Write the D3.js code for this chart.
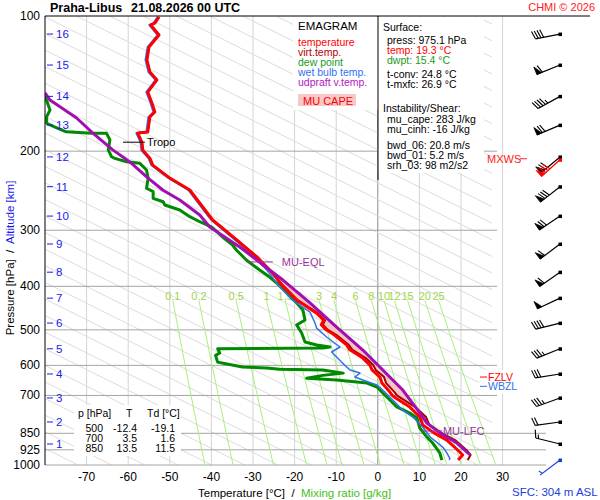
<!DOCTYPE html>
<html>
<head>
<meta charset="utf-8">
<script src="https://cdn.jsdelivr.net/npm/d3@7"></script>
<style>
  body { margin: 0; background: #fff; }
  svg { display: block; font-family: "Liberation Sans", Arial, sans-serif; }
</style>
</head>
<body>
<script>
// sounding: pressure [hPa] and temperature [C]
var tempP = [100.5, 103.7, 104.7, 110.2, 117.2, 125.3, 133.2, 138.8, 147.7, 156.2, 163.6, 167.8, 181.3, 182.3, 191.1, 199, 207.3, 214.8, 229.6, 244.1, 284.7, 315.3, 343.9, 368, 383, 397, 429, 459, 476, 487, 500, 513, 540, 554, 578, 599, 614, 637, 657, 688, 700, 709, 743, 782, 814, 848, 880, 926, 950, 975];
var tempT = [-52.6, -53.6, -54.6, -52.6, -55.0, -55.5, -54.8, -53.1, -55.3, -54.3, -53.6, -54.8, -55.3, -57.7, -56.7, -56.5, -54.8, -54.1, -50.0, -45.2, -39.7, -33.9, -29.1, -26.0, -24.4, -23.1, -19.5, -14.7, -13.0, -13.6, -12.4, -10.5, -7.5, -6.7, -3.6, -1.9, -1.4, 0.5, 1.0, 2.9, 3.5, 4.3, 7.7, 10.1, 10.8, 13.5, 16.6, 19.2, 20.4, 19.3];
var virtT = [-52.6, -53.6, -54.6, -52.6, -55.0, -55.5, -54.8, -53.1, -55.3, -54.3, -53.6, -54.8, -55.3, -57.7, -56.7, -56.5, -54.8, -54.1, -50.0, -45.2, -39.7, -33.9, -29.0, -25.9, -24.3, -22.9, -19.3, -14.4, -12.7, -13.2, -12.0, -10.0, -7.0, -6.1, -2.9, -1.1, -0.5, 1.5, 2.0, 4.0, 4.6, 5.5, 9.0, 11.6, 12.4, 15.3, 18.6, 21.3, 22.3, 21.6];

var dewP = [150.7, 162.0, 167.6, 173.4, 177.9, 181.1, 182.5, 182.5, 188.8, 198.7, 205.8, 207.5, 211.1, 212.9, 220.3, 229.9, 241.9, 246.2, 254.7, 259.2, 263.6, 270.5, 279.9, 287.2, 295.1, 310.6, 323.6, 332.0, 349.4, 368, 381.4, 393.3, 414, 435.6, 451.6, 475.5, 487.9, 508.2, 532.1, 540.3, 546, 548.8, 551, 563, 570, 590, 594, 605, 608.1, 612, 614.3, 624.3, 631.5, 641.2, 646.8, 656.8, 670.4, 691.4, 716.5, 742.6, 766, 786, 827, 866.5, 893.4, 940.2, 975];
var dewT = [-80.0, -78.8, -79.6, -79.6, -76.9, -74.9, -68.8, -65.2, -64.4, -64.8, -64.0, -63.2, -60.4, -57.2, -55.6, -55.2, -55.6, -54.0, -54.0, -51.6, -51.2, -47.6, -45.2, -42.8, -39.9, -37.3, -34.9, -34.0, -31.6, -28.4, -26.0, -24.3, -21.9, -19.5, -18.0, -17.5, -19.5, -18.3, -17.5, -14.7, -11.5, -13.2, -38.5, -38.0, -39.0, -38.5, -36.9, -32.5, -26.7, -23.6, -13.2, -8.3, -13.2, -17.1, -9.9, -2.6, -0.2, 1.2, 2.9, 4.6, 7.7, 9.4, 10.1, 11.8, 13.2, 14.9, 15.4];

var wbP = [100.5, 103.7, 104.7, 110.2, 117.2, 125.3, 133.2, 138.8, 147.7, 156.2, 163.6, 167.8, 181.3, 182.3, 191.1, 199, 207.3, 214.8, 229.6, 244.1, 284.7, 315.3, 343.9, 368, 383, 397, 429, 456.6, 482.8, 495.5, 518.7, 546, 560.2, 574.6, 605, 614.3, 624, 636.8, 646.8, 663.6, 680.8, 716.5, 754.4, 782, 823, 866.5, 912, 940, 967, 975];
var wbT = [-53.0, -54.0, -55.0, -53.0, -55.4, -55.9, -55.2, -53.5, -55.7, -54.7, -54.0, -55.2, -55.7, -58.1, -57.1, -56.9, -55.2, -54.5, -50.4, -45.6, -40.1, -34.4, -29.7, -26.7, -25.2, -24.0, -20.6, -16.3, -15.1, -14.7, -12.3, -9.1, -11.1, -9.9, -7.5, -6.7, -4.3, -5.5, -3.6, -0.2, 1.2, 3.6, 6.0, 8.4, 10.8, 12.6, 15.6, 16.6, 17.3, 17.2];

var parcelP = [148.4, 153.9, 168.7, 182.3, 198.7, 211.4, 228.4, 244.1, 256.9, 277.5, 295.1, 326.9, 349.4, 368, 387.3, 435.6, 493, 554.5, 614.3, 680.8, 754.4, 806.3, 848.1, 893.4, 950];
var parcelT = [-80, -78.8, -72.4, -68.5, -63.7, -59.6, -55.5, -51.7, -47.6, -42.8, -40.4, -33.2, -29.1, -26.0, -22.8, -16.3, -9.9, -3.6, 1.2, 6.0, 9.6, 11.8, 14.9, 19.0, 22.2];

// axes
var pressTicks = [100, 200, 300, 400, 500, 600, 700, 850, 925, 1000];
var tempTicks = [-70, -60, -50, -40, -30, -20, -10, 0, 10, 20, 30];
var mixRatios = [0.1, 0.2, 0.5, 1, 1.5, 2, 3, 4, 6, 8, 10, 12, 15, 20, 25];
var altKm = [1, 2, 3, 4, 5, 6, 7, 8, 9, 10, 11, 12, 13, 14, 15, 16];
var altP = [898, 802, 709, 627, 551, 483, 425, 372, 322, 279, 240, 206, 175, 151, 128.6, 109.7];

// winds (surface first, then 1..16 km)
var windP = [975, 898, 802, 709, 627, 551, 483, 425, 372, 322, 279, 240, 206, 175, 151, 128.6, 109.7];
var windDir = [233, 284, 262, 250, 261, 248, 256, 245, 235, 233, 236, 232, 230, 247, 241, 248, 259];
var windSpd = [2, 7.5, 10, 17.5, 15, 17.5, 20, 25, 30, 30, 35, 40, 35, 35, 22.5, 30, 20];

// table + levels
var tableP = [500, 700, 850];
var tableT = [-12.4, 3.5, 13.5];
var tableTd = [-19.1, 1.6, 11.5];
var tropoP = 191, tropoT = -56.7;
var eqlP = 353, eqlT = -28.6;
var lfcP = 840, lfcT = 13.0;
var fzlvP = 637, wbzlP = 668;
var mxwsP = 209, mxwsDir = 228, mxwsSpd = 41;

var svg = d3.select('body').append('svg').attr('width', 600).attr('height', 500);
svg.append('rect').attr('width', 600).attr('height', 500).attr('fill', '#fff');

var x = d3.scaleLinear().domain([-80, 30]).range([45, 502.6]);
var y = d3.scaleLog().domain([100, 1000]).range([16, 465]);

var defs = svg.append('defs');
defs.append('clipPath').attr('id', 'plot').append('rect')
  .attr('x', 45).attr('y', 16).attr('width', 458).attr('height', 449);
defs.append('clipPath').attr('id', 'diag').append('rect')
  .attr('x', 45).attr('y', 16).attr('width', 447).attr('height', 449);

var line = d3.line().x(function(d) { return x(d[1]); }).y(function(d) { return y(d[0]); });

// isotherms
svg.append('g').selectAll('line').data(tempTicks).enter().append('line')
  .attr('x1', function(d) { return x(d); }).attr('x2', function(d) { return x(d); })
  .attr('y1', y(100)).attr('y2', y(1000))
  .attr('stroke', function(d) { return d === 0 ? '#8c8c8c' : '#d4d4d4'; })
  .attr('stroke-width', 1);

// slanted background lines
var diagT0 = d3.range(-80, 400, 8);
svg.append('g').attr('clip-path', 'url(#diag)').selectAll('path').data(diagT0).enter().append('path')
  .attr('d', function(t0) { return line([[1000, t0], [100, t0 - 94 * Math.log(10)]]); })
  .attr('fill', 'none').attr('stroke', '#dcdcdc').attr('stroke-width', 1);

// isobars
svg.append('g').selectAll('line').data(pressTicks.slice(1)).enter().append('line')
  .attr('x1', 45).attr('x2', function(d) { return d >= 850 ? 546 : 497; })
  .attr('y1', function(d) { return y(d); }).attr('y2', function(d) { return y(d); })
  .attr('stroke', '#a4a4a4').attr('stroke-width', 1);

// mixing ratio lines
function mixT(w, p) {
  var e = w * p / (622 + w);
  var l = Math.log(e / 6.112);
  return 243.5 * l / (17.67 - l);
}
var mixLevels = [430, 500, 600, 700, 800, 900, 1000];
var mixG = svg.append('g');
mixG.selectAll('path').data(mixRatios).enter().append('path')
  .attr('d', function(w) { return line(mixLevels.map(function(p) { return [p, mixT(w, p)]; })); })
  .attr('fill', 'none').attr('stroke', '#a8f07c').attr('stroke-width', 1);
mixG.selectAll('text').data(mixRatios).enter().append('text')
  .attr('x', function(w) { return x(mixT(w, 430)); })
  .attr('y', y(400) + 14)
  .attr('text-anchor', 'middle').attr('font-size', 11).attr('fill', '#a2d34c')
  .text(function(w) { return w; });

// CAPE area
var capeUp = parcelP.map(function(p, i) { return [p, parcelT[i]]; })
  .filter(function(d) { return d[0] >= eqlP && d[0] <= lfcP; });
var capeEnv = tempP.map(function(p, i) { return [p, virtT[i]]; })
  .filter(function(d) { return d[0] >= eqlP && d[0] <= lfcP; }).reverse();
svg.append('path').attr('d', line([[eqlP, eqlT]].concat(capeUp, [[lfcP, lfcT]], capeEnv)) + 'Z')
  .attr('fill', '#f7c4c4').attr('stroke', 'none');

// profiles
var prof = svg.append('g').attr('clip-path', 'url(#plot)').attr('fill', 'none')
  .attr('stroke-linejoin', 'round');
prof.append('path').attr('d', line(dewP.map(function(p, i) { return [p, dewT[i]]; })))
  .attr('stroke', '#008a00').attr('stroke-width', 3);
prof.append('path').attr('d', line(wbP.map(function(p, i) { return [p, wbT[i]]; })))
  .attr('stroke', '#2f72f0').attr('stroke-width', 1.5);
prof.append('path').attr('d', line(tempP.map(function(p, i) { return [p, virtT[i]]; })))
  .attr('stroke', '#a00000').attr('stroke-width', 2);
prof.append('path').attr('d', line(tempP.map(function(p, i) { return [p, tempT[i]]; })))
  .attr('stroke', '#ff0000').attr('stroke-width', 3);
prof.append('path').attr('d', line(parcelP.map(function(p, i) { return [p, parcelT[i]]; })))
  .attr('stroke', '#a010b0').attr('stroke-width', 3);

// level markers
svg.append('line').attr('x1', x(tropoT) - 19).attr('x2', x(tropoT) + 3)
  .attr('y1', y(tropoP)).attr('y2', y(tropoP)).attr('stroke', '#000');
svg.append('text').attr('x', x(tropoT) + 5).attr('y', y(tropoP) + 4)
  .attr('font-size', 11).text('Tropo');
svg.append('line').attr('x1', x(eqlT) - 12).attr('x2', x(eqlT) + 14)
  .attr('y1', y(eqlP)).attr('y2', y(eqlP)).attr('stroke', '#993399');
svg.append('text').attr('x', x(eqlT) + 23).attr('y', y(eqlP) + 4)
  .attr('font-size', 11).attr('fill', '#993399').text('MU-EQL');
svg.append('line').attr('x1', x(lfcT) - 10).attr('x2', x(lfcT) + 10)
  .attr('y1', y(lfcP)).attr('y2', y(lfcP)).attr('stroke', '#993399');
svg.append('text').attr('x', x(lfcT) + 11).attr('y', y(lfcP) + 4)
  .attr('font-size', 11).attr('fill', '#993399').text('MU-LFC');

// axis frame
svg.append('line').attr('x1', 45).attr('x2', 45).attr('y1', y(100)).attr('y2', y(1000)).attr('stroke', '#000');
svg.append('line').attr('x1', 45).attr('x2', 590).attr('y1', y(100)).attr('y2', y(100)).attr('stroke', '#000');

svg.append('g').selectAll('text').data(pressTicks).enter().append('text')
  .attr('x', 40).attr('y', function(d) { return y(d) + 4; })
  .attr('text-anchor', 'end').attr('font-size', 12).text(function(d) { return d; });

svg.append('g').selectAll('text').data(tempTicks).enter().append('text')
  .attr('x', function(d) { return x(d); }).attr('y', 481)
  .attr('text-anchor', 'middle').attr('font-size', 12).text(function(d) { return d; });

var alt = svg.append('g').attr('fill', '#1a1aee').attr('stroke', '#1a1aee');
alt.selectAll('line').data(altP).enter().append('line')
  .attr('x1', 47).attr('x2', 53)
  .attr('y1', function(d) { return y(d); }).attr('y2', function(d) { return y(d); });
alt.selectAll('text').data(altKm).enter().append('text')
  .attr('x', 56).attr('y', function(d, i) { return y(altP[i]) + 4; })
  .attr('stroke', 'none').attr('font-size', 11.5).text(function(d) { return d; });

// axis titles
var yt = svg.append('text').attr('transform', 'translate(14,258) rotate(-90)')
  .attr('text-anchor', 'middle').attr('font-size', 11.5).attr('xml:space', 'preserve');
yt.append('tspan').text('Pressure [hPa]  /  ');
yt.append('tspan').attr('fill', '#1a1aee').text('Altitude [km]');

var xt = svg.append('text').attr('x', 198).attr('y', 497).attr('font-size', 11.5)
  .attr('xml:space', 'preserve');
xt.append('tspan').text('Temperature [°C]  /  ');
xt.append('tspan').attr('fill', '#44c020').text('Mixing ratio [g/kg]');

svg.append('text').attr('x', 512).attr('y', 496).attr('font-size', 11.5)
  .attr('fill', '#2040dd').text('SFC: 304 m ASL');

// title
svg.append('text').attr('x', 50).attr('y', 12).attr('font-size', 12.5).attr('font-weight', 'bold')
  .text('Praha-Libus');
svg.append('text').attr('x', 131).attr('y', 12).attr('font-size', 12.5).attr('font-weight', 'bold')
  .text('21.08.2026 00 UTC');
svg.append('text').attr('x', 595).attr('y', 11).attr('text-anchor', 'end').attr('font-size', 11)
  .attr('fill', '#ff2020').text('CHMI © 2026');

// legend box
svg.append('rect').attr('x', 293).attr('y', 17).attr('width', 85).attr('height', 93).attr('fill', '#fff');
var leg = svg.append('g').attr('font-size', 10.5);
leg.append('text').attr('x', 298).attr('y', 30).attr('font-size', 11.5).text('EMAGRAM');
var legItems = [['temperature', '#ff0000'], ['virt.temp.', '#b00000'], ['dew point', '#1a9a1a'],
  ['wet bulb temp.', '#2f72f0'], ['udpraft v.temp.', '#b020c0']];
leg.selectAll('.li').data(legItems).enter().append('text')
  .attr('x', 298).attr('y', function(d, i) { return 46 + i * 10; })
  .attr('fill', function(d) { return d[1]; }).text(function(d) { return d[0]; });
leg.append('rect').attr('x', 298).attr('y', 94).attr('width', 58).attr('height', 12).attr('fill', '#f7c8c8');
leg.append('text').attr('x', 303).attr('y', 105).attr('fill', '#ff0000').attr('font-size', 11).text('MU CAPE');

// surface / instability box
svg.append('rect').attr('x', 378).attr('y', 17).attr('width', 106).attr('height', 156).attr('fill', '#fff');
svg.append('line').attr('x1', 378).attr('x2', 378).attr('y1', 16).attr('y2', 180).attr('stroke', '#000');
var info = [
  ['Surface:', 383, 31, '#000'],
  ['press: 975.1 hPa', 387, 44, '#000'],
  ['temp: 19.3 °C', 387, 54, '#ff0000'],
  ['dwpt: 15.4 °C', 387, 64, '#1a9a1a'],
  ['t-conv: 24.8 °C', 387, 78, '#000'],
  ['t-mxfc: 26.9 °C', 387, 88, '#000'],
  ['Instability/Shear:', 383, 112, '#000'],
  ['mu_cape: 283 J/kg', 387, 123, '#000'],
  ['mu_cinh: -16 J/kg', 387, 133, '#000'],
  ['bwd_06: 20.8 m/s', 387, 149, '#000'],
  ['bwd_01: 5.2 m/s', 387, 159, '#000'],
  ['srh_03: 98 m2/s2', 387, 169, '#000']
];
svg.append('g').attr('font-size', 10.5).selectAll('text').data(info).enter().append('text')
  .attr('x', function(d) { return d[1]; }).attr('y', function(d) { return d[2]; })
  .attr('fill', function(d) { return d[3]; }).text(function(d) { return d[0]; });

// table
svg.append('rect').attr('x', 74).attr('y', 405).attr('width', 107).attr('height', 51).attr('fill', '#fff');
var tb = svg.append('g').attr('font-size', 10.5);
tb.append('text').attr('x', 78).attr('y', 417).text('p [hPa]');
tb.append('text').attr('x', 126).attr('y', 417).text('T');
tb.append('text').attr('x', 147).attr('y', 417).text('Td [°C]');
tableP.forEach(function(p, i) {
  var ty = 432 + i * 10;
  tb.append('text').attr('x', 103).attr('y', ty).attr('text-anchor', 'end').text(p);
  tb.append('text').attr('x', 137).attr('y', ty).attr('text-anchor', 'end').text(tableT[i].toFixed(1));
  tb.append('text').attr('x', 175).attr('y', ty).attr('text-anchor', 'end').text(tableTd[i].toFixed(1));
});

// freezing level labels
svg.append('rect').attr('x', 479).attr('y', y(fzlvP) - 7).attr('width', 44).attr('height', 24).attr('fill', '#fff');
svg.append('line').attr('x1', 480).attr('x2', 487).attr('y1', y(fzlvP)).attr('y2', y(fzlvP)).attr('stroke', '#ff0000');
svg.append('text').attr('x', 488).attr('y', y(fzlvP) + 4).attr('font-size', 10.5).attr('fill', '#ff0000').text('FZLV');
svg.append('line').attr('x1', 480).attr('x2', 487).attr('y1', y(wbzlP)).attr('y2', y(wbzlP)).attr('stroke', '#2f72f0');
svg.append('text').attr('x', 488).attr('y', y(wbzlP) + 4).attr('font-size', 10.5).attr('fill', '#2f72f0').text('WBZL');

// max wind label
svg.append('text').attr('x', 487).attr('y', y(mxwsP) + 3).attr('font-size', 11).attr('fill', '#ff2020').text('MXWS');
svg.append('line').attr('x1', 520).attr('x2', 527).attr('y1', y(mxwsP) - 1).attr('y2', y(mxwsP) - 1).attr('stroke', '#ff2020');

// wind barbs
function barb(g, py, dir, spd, color) {
  var px = 560, L = 25, a = dir * Math.PI / 180;
  var ux = Math.sin(a), uy = -Math.cos(a);
  var fx = -uy, fy = ux;
  var tx = px + ux * L, ty = py + uy * L;
  g.append('line').attr('x1', px).attr('y1', py).attr('x2', tx).attr('y2', ty)
    .attr('stroke', color).attr('stroke-width', 1.2);
  g.append('rect').attr('x', px - 1.5).attr('y', py - 1.5).attr('width', 3.5).attr('height', 3.5).attr('fill', color);
  var s = Math.round(spd / 2.5) * 2.5;
  var pen = Math.floor(s / 25); s -= pen * 25;
  var full = Math.floor(s / 5); s -= full * 5;
  var half = s > 0 ? 1 : 0;
  var pos = 0;
  for (var i = 0; i < pen; i++) {
    var ax = tx - ux * pos, ay = ty - uy * pos;
    var bx = tx - ux * (pos + 5), by = ty - uy * (pos + 5);
    g.append('path').attr('d', 'M' + ax + ',' + ay + 'L' + bx + ',' + by + 'L' + (ax + fx * 8) + ',' + (ay + fy * 8) + 'Z')
      .attr('fill', color).attr('stroke', color).attr('stroke-width', 0.8);
    pos += 6;
  }
  for (var j = 0; j < full; j++) {
    var sx = tx - ux * pos, sy = ty - uy * pos;
    g.append('line').attr('x1', sx).attr('y1', sy)
      .attr('x2', sx + fx * 8 + ux * 2.5).attr('y2', sy + fy * 8 + uy * 2.5)
      .attr('stroke', color).attr('stroke-width', 1.1);
    pos += 2.8;
  }
  if (half) {
    if (pen + full === 0) pos += 2.8;
    var hx = tx - ux * pos, hy = ty - uy * pos;
    g.append('line').attr('x1', hx).attr('y1', hy)
      .attr('x2', hx + fx * 4 + ux * 1.2).attr('y2', hy + fy * 4 + uy * 1.2)
      .attr('stroke', color).attr('stroke-width', 1.1);
  }
}
var wg = svg.append('g');
windP.forEach(function(p, i) {
  barb(wg, y(p), windDir[i], windSpd[i], i === 0 ? '#1a3ae0' : '#000');
});
barb(wg, y(mxwsP), mxwsDir, mxwsSpd, '#ff0000');
</script>
</body>
</html>
